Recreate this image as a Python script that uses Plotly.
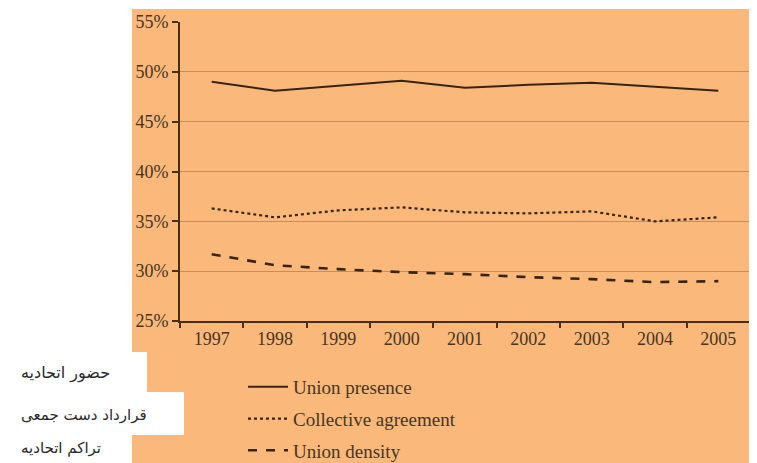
import plotly.graph_objects as go

years = ["1997", "1998", "1999", "2000", "2001", "2002", "2003", "2004", "2005"]
union_presence = [49.0, 48.1, 48.6, 49.1, 48.4, 48.7, 48.9, 48.5, 48.1]
collective_agreement = [36.3, 35.4, 36.1, 36.4, 35.9, 35.8, 36.0, 35.0, 35.4]
union_density = [31.7, 30.6, 30.2, 29.9, 29.7, 29.4, 29.2, 28.9, 29.0]
series_names = ["Union presence", "Collective agreement", "Union density"]
persian_labels = ["حضور اتحادیه", "قرارداد دست جمعی", "تراکم اتحادیه"]

# page body has an 8px default margin; work in screen coordinates
OFF = 8
W, H = 757 - OFF, 463 - OFF
L, R, T, B = 180 - OFF, 7, 22 - OFF, 142
PW, PH = W - L - R, H - T - B

def px(x):
    return (x - OFF - L) / PW

def py(y):
    return (H - B - (y - OFF)) / PH

ORANGE = "#FAB97B"
LINE = "#3a2312"
AXIS = "#4a2e14"
GRID = "#C98E58"
TEXT = "#4a3422"

fig = go.Figure()
styles = ["solid", "dot", "dash"]
widths = [2, 2.2, 2.6]
for i, (name, vals) in enumerate(zip(series_names, [union_presence, collective_agreement, union_density])):
    fig.add_trace(go.Scatter(
        x=years, y=vals, mode="lines", name=name,
        line=dict(color=LINE, width=widths[i], dash=styles[i]),
        legendgroup=f"g{i}",
    ))

shapes = [
    dict(type="rect", xref="paper", yref="paper", x0=px(132), x1=px(770), y0=py(480), y1=py(9),
         fillcolor=ORANGE, line=dict(width=0), layer="below"),
    dict(type="rect", xref="paper", yref="paper", x0=px(0), x1=px(147), y0=py(392), y1=py(352),
         fillcolor="white", line=dict(width=0), layer="below"),
    dict(type="rect", xref="paper", yref="paper", x0=px(0), x1=px(184), y0=py(435), y1=py(392),
         fillcolor="white", line=dict(width=0), layer="below"),
]

annotations = []
for lab, yy, fs in zip(persian_labels, [373, 415, 448], [16, 15, 15]):
    annotations.append(dict(
        text=lab, xref="paper", yref="paper", x=px(19), y=py(yy),
        xanchor="left", yanchor="middle", showarrow=False,
        font=dict(family="DejaVu Sans", size=fs, color="#2a2a2a"),
    ))

fig.update_layout(
    width=W, height=H,
    margin=dict(l=L, r=R, t=T, b=B, pad=0, autoexpand=False),
    paper_bgcolor="white",
    plot_bgcolor="rgba(0,0,0,0)",
    shapes=shapes,
    annotations=annotations,
    showlegend=True,
    legend=dict(
        x=px(243), xanchor="left", y=py(368), yanchor="top",
        bgcolor="rgba(0,0,0,0)", borderwidth=0,
        font=dict(family="Liberation Serif", size=19, color=TEXT),
        traceorder="grouped", tracegroupgap=4, itemwidth=40,
    ),
    xaxis=dict(
        type="category", range=[-0.5, 8.5],
        tickson="boundaries", ticks="outside", ticklen=5, tickwidth=1.5, tickcolor=AXIS,
        showline=True, linecolor=AXIS, linewidth=2,
        showgrid=False, zeroline=False, automargin=False,
        tickfont=dict(family="Liberation Serif", size=18, color=TEXT),
    ),
    yaxis=dict(
        range=[25, 55], dtick=5, ticksuffix="%",
        ticks="outside", ticklen=6, tickwidth=1.5, tickcolor=AXIS,
        showline=True, linecolor=AXIS, linewidth=2,
        showgrid=True, gridcolor=GRID, gridwidth=1, zeroline=False, automargin=False,
        tickfont=dict(family="Liberation Serif", size=18, color=TEXT),
    ),
)

fig.write_html("out.html")
